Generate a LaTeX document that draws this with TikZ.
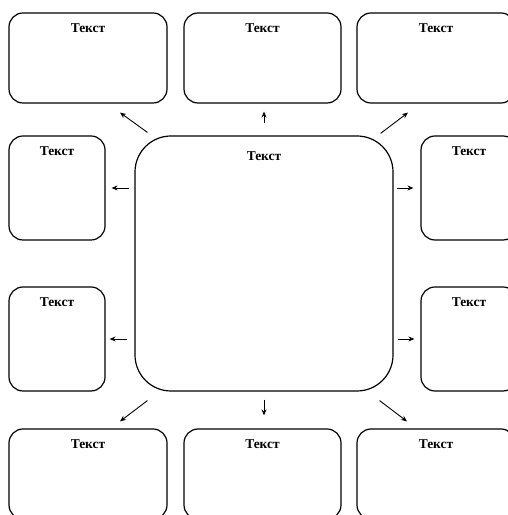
\documentclass[tikz,border=0pt]{standalone}
\usepackage{fontspec}
\setmainfont{Liberation Serif}
\usetikzlibrary{arrows.meta,calc}
\tikzset{
  box/.style 2 args={draw,line width=1.2pt,rounded corners=14bp,inner sep=0pt,
    minimum width=#1,minimum height=#2},
  title/.style={label={[anchor=north,yshift=-#1,inner sep=3pt,
    font=\bfseries\fontsize{13.5}{15}\selectfont]north:Текст}},
  title/.default=8bp,
  arr/.style={->,line width=0.9pt}
}
\begin{document}
\begin{tikzpicture}[x=1bp,y=1bp,>={Stealth[length=6pt,width=5pt]}]
\useasboundingbox (0,0) rectangle (508,515);
\clip (0,0) rectangle (508,515);
% central box
\node[box={258bp}{255bp},rounded corners=36bp,title=13bp] (c) at (264,251.5) {};
% top row
\node[box={158bp}{90bp},title] (tl) at (88,457) {};
\node[box={157bp}{90bp},title] (tm) at (262.5,457) {};
\node[box={158bp}{90bp},title] (tr) at (436,457) {};
% sides
\node[box={96bp}{104bp},title] (l1) at (57,327) {};
\node[box={96bp}{104bp},title] (l2) at (57,176) {};
\node[box={96bp}{104bp},title] (r1) at (469,327) {};
\node[box={96bp}{104bp},title] (r2) at (469,176) {};
% bottom row
\node[box={158bp}{90bp},title] (bl) at (88,41) {};
\node[box={157bp}{90bp},title] (bm) at (262.5,41) {};
\node[box={158bp}{90bp},title] (br) at (436,41) {};
% arrows
\draw[arr,shorten <=12bp,shorten >=8bp](c.north)--(c.north|-tm.south);
\draw[arr,shorten <=8bp,shorten >=13bp](c.south)--(c.south|-bm.north);
\draw[arr,shorten <=5bp,shorten >=6bp](c.west|-l1)--(l1.east);
\draw[arr,shorten <=7bp,shorten >=4bp](c.west|-l2)--(l2.east);
\draw[arr,shorten <=3bp,shorten >=7bp](c.east|-r1)--(r1.west);
\draw[arr,shorten <=4bp,shorten >=6bp](c.east|-r2)--(r2.west);
\draw[arr]($(c.north west)+(13,3)$)--($(tl.south)+(32,-9)$);
\draw[arr]($(c.north east)+(-13,2)$)--($(tr.south)+(-28,-9)$);
\draw[arr]($(c.south west)+(13,-9)$)--($(bl.north)+(32,7)$);
\draw[arr]($(c.south east)+(-14,-9)$)--($(br.north)+(-29,7)$);
\end{tikzpicture}
\end{document}
